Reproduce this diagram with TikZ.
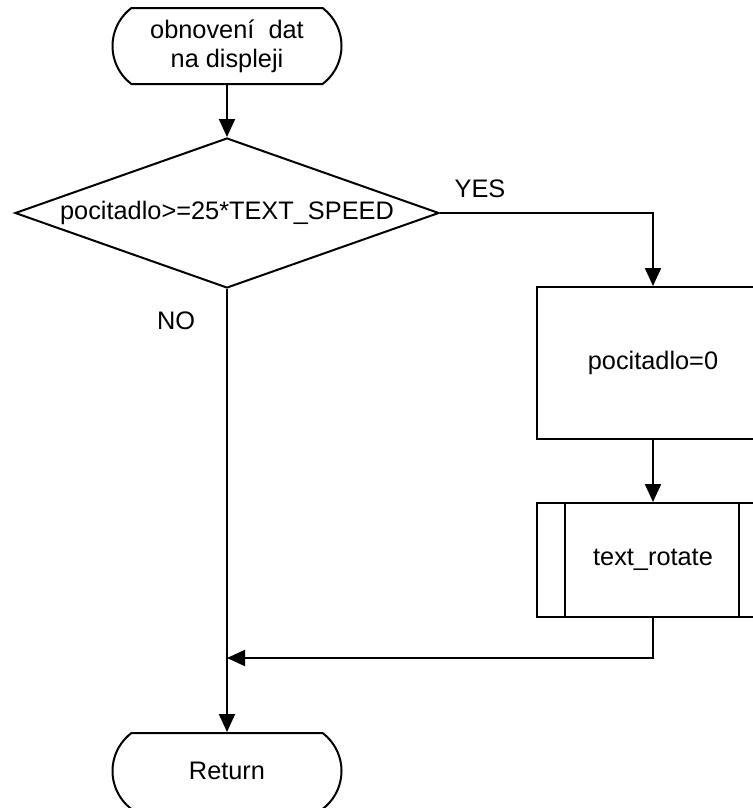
\documentclass[tikz,border=0pt]{standalone}
\usepackage{fontspec}
\setmainfont{Liberation Sans}
\usetikzlibrary{arrows.meta,shapes.geometric,shapes.misc,calc}

\begin{document}
\begin{tikzpicture}[x=0.75pt,y=-0.75pt,
  every node/.style={font=\fontsize{19}{21.5}\selectfont},
  flow/.style={line width=1.5pt},
  arr/.style={flow,-{Triangle[length=13.5pt,width=12pt]}},
  terminal/.style={flow,draw,rounded rectangle,rounded rectangle arc length=106,
    minimum width=171.75pt,minimum height=57pt,inner sep=0pt,align=center},
  decision/.style={flow,draw,diamond,shape aspect=2.83,minimum width=318pt,
    minimum height=112.5pt,inner sep=0pt},
  process/.style={flow,draw,rectangle,minimum width=174pt,minimum height=114pt,inner sep=0pt},
  subproc/.style={flow,draw,rectangle,minimum width=174pt,minimum height=85.5pt,inner sep=0pt},
  tag/.style={inner sep=0pt}]

  \useasboundingbox (0,0) rectangle (753,808);

  % blocks
  \node[terminal] (start) at (227,46) {obnovení\ \ dat\\na displeji};
  \node[decision] (dec) at (227,213) {pocitadlo>=25*TEXT\_SPEED};
  \node[process] (reset) at (653,363) {pocitadlo=0};
  \node[subproc] (rot) at (653,560) {text\_rotate};
  \draw[flow] ($(rot.north west)+(29,0)$) -- ($(rot.south west)+(29,0)$);
  \draw[flow] ($(rot.north east)+(-31,0)$) -- ($(rot.south east)+(-31,0)$);
  \node[terminal] (ret) at (227,771) {Return};

  \coordinate (join) at (227,658);

  % branch labels
  \node[tag] (yes) at (480,189) {YES};
  \node[tag] (no) at (176,321) {NO};

  % connectors
  \draw[arr] (start.south) -- (dec.north);
  \draw[arr] (dec.east) -| (reset.north);
  \draw[arr] (reset.south) -- (rot.north);
  \draw[arr] (rot.south) |- (join);
  \draw[arr] (dec.south) -- (ret.north);
\end{tikzpicture}
\end{document}
